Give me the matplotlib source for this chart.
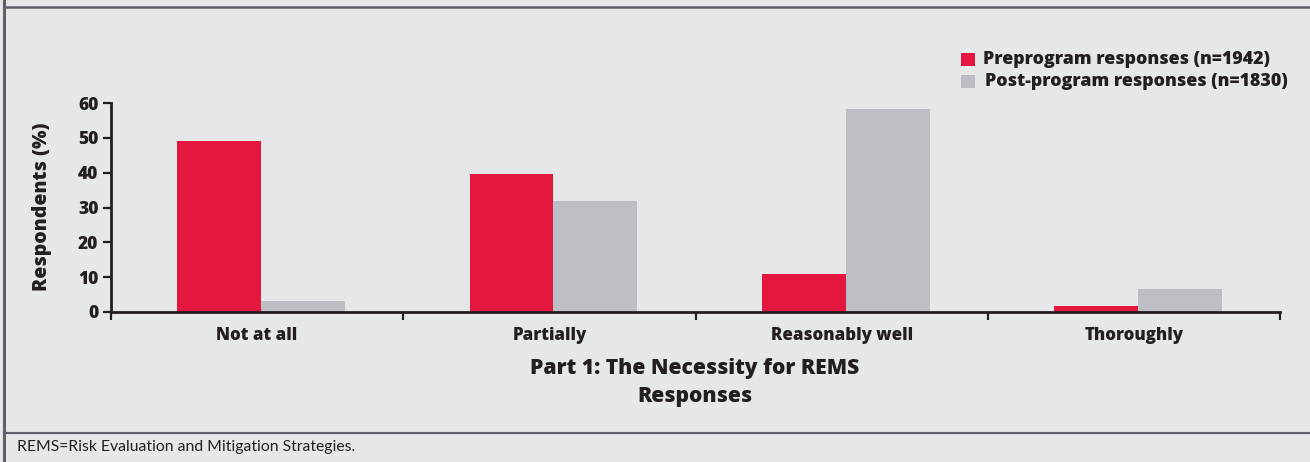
import matplotlib
matplotlib.use("Agg")
import matplotlib.pyplot as plt
import numpy as np
from matplotlib.lines import Line2D
from matplotlib.patches import Rectangle

# ---- data ----
categories = ["Not at all", "Partially", "Reasonably well", "Thoroughly"]
pre_values = [49.1, 39.7, 10.9, 1.7]
post_values = [3.2, 31.9, 58.3, 6.6]
series_labels = ["Preprogram responses (n=1942)", "Post-program responses (n=1830)"]
y_ticks = [0, 10, 20, 30, 40, 50, 60]
y_label = "Respondents (%)"
x_title = "Part 1: The Necessity for REMS\nResponses"
footnote = "REMS=Risk Evaluation and Mitigation Strategies."

RED = "#e4173e"
GRAY = "#bebfc4"
BG = "#e6e7e9"
TXT = "#231f20"
FRAME = "#5d6068"
FONT = ["Open Sans", "DejaVu Sans"]
WT = "extra bold"
FONT2 = ["Lato", "DejaVu Sans"]

W, H = 1310, 462
fig = plt.figure(figsize=(W / 100, H / 100), dpi=100)
fig.patch.set_facecolor(BG)

ax = fig.add_axes([111 / W, 1 - 312 / H, (1280 - 111) / W, (312 - 103) / H])
ax.set_facecolor("none")

x = np.arange(len(categories))
bw = 0.287
off = 0.014
ax.bar(x - bw / 2 + off, pre_values, bw, color=RED, linewidth=0, zorder=2)
ax.bar(x + bw / 2 + off, post_values, bw, color=GRAY, linewidth=0, zorder=2)

ax.set_xlim(-0.5, len(categories) - 0.5)
ax.set_ylim(0, 60)

for s in ["top", "right"]:
    ax.spines[s].set_visible(False)
for s in ["left", "bottom"]:
    ax.spines[s].set_linewidth(2.0)
    ax.spines[s].set_color(TXT)
    ax.spines[s].set_zorder(3)

ax.set_yticks(y_ticks)
ax.set_yticklabels([str(v) for v in y_ticks], fontfamily=FONT, fontweight=WT,
                   fontsize=12.5, color=TXT)
ax.tick_params(axis="y", length=6, width=1.6, color=TXT, pad=3)

# boundary ticks (major, with marks) and category labels (minor, no marks)
ax.set_xticks(np.arange(-0.5, len(categories), 1.0))
ax.set_xticklabels([])
ax.tick_params(axis="x", which="major", length=6, width=1.6, color=TXT, direction="out")
ax.set_xticks(x, minor=True)
ax.set_xticklabels(categories, minor=True, fontfamily=FONT, fontweight=WT,
                   fontsize=12.2, color=TXT)
ax.tick_params(axis="x", which="minor", length=0, pad=10.5)

ax.set_ylabel(y_label, fontfamily=FONT, fontweight=WT, fontsize=14, color=TXT)
ax.yaxis.set_label_coords((52 - 111) / 1169, (312 - 207) / 209)

ax.set_xlabel(x_title, fontfamily=FONT, fontweight=WT, fontsize=15.2, color=TXT,
              linespacing=1.42, va="top")
ax.xaxis.set_label_coords((695 - 111) / 1169, (312 - 358) / 209)

# legend (manual)
fig.patches.append(Rectangle((961 / W, 1 - 66 / H), 14 / W, 13 / H,
                             transform=fig.transFigure, facecolor=RED, linewidth=0))
fig.patches.append(Rectangle((961 / W, 1 - 88 / H), 14 / W, 13 / H,
                             transform=fig.transFigure, facecolor=GRAY, linewidth=0))
fig.text(983 / W, 1 - 60 / H, series_labels[0], fontfamily=FONT, fontweight=WT,
         fontsize=12.8, color=TXT, va="center", ha="left")
fig.text(985 / W, 1 - 82 / H, series_labels[1], fontfamily=FONT, fontweight=WT,
         fontsize=12.8, color=TXT, va="center", ha="left")

# frame lines
fig.add_artist(Line2D([4 / W, 1], [1 - 7 / H, 1 - 7 / H], transform=fig.transFigure,
                      color=FRAME, linewidth=1.8))
fig.add_artist(Line2D([4 / W, 1], [1 - 433 / H, 1 - 433 / H], transform=fig.transFigure,
                      color=FRAME, linewidth=1.6))
fig.add_artist(Line2D([4 / W, 4 / W], [0, 1], transform=fig.transFigure,
                      color=FRAME, linewidth=2.2))

fig.text(17 / W, 1 - 447 / H, footnote, fontfamily=FONT2, fontsize=11.3, color=TXT,
         va="center", ha="left")

fig.savefig("out.png", dpi=100, facecolor=BG)
